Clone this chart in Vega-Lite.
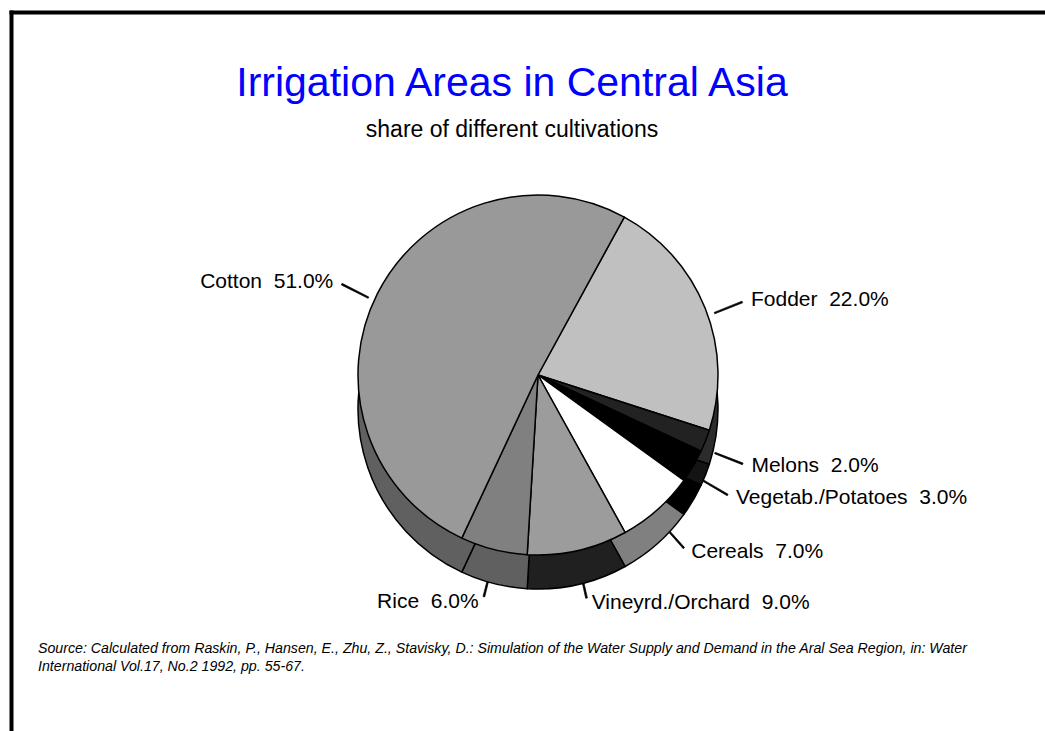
{
  "$schema": "https://vega.github.io/schema/vega-lite/v6.json",
  "autosize": "none",
  "padding": {"left": 11, "top": 12, "right": 0, "bottom": 0},
  "width": 1034,
  "height": 719,
  "background": "white",
  "config": {
    "font": "Liberation Sans",
    "view": {"stroke": null}
  },
  "title": {
    "text": "Irrigation Areas in Central Asia",
    "subtitle": "share of different cultivations",
    "fontSize": 41,
    "fontWeight": "normal",
    "color": "#0000ff",
    "subtitleFontSize": 23,
    "subtitleColor": "black",
    "subtitlePadding": 14,
    "anchor": "middle",
    "frame": "group",
    "offset": -131,
    "dx": -16
  },
  "data": {
    "values": [
      {"crop": "Fodder", "pct": 22, "o": 1},
      {"crop": "Melons", "pct": 2, "o": 2},
      {"crop": "Vegetab./Potatoes", "pct": 3, "o": 3},
      {"crop": "Cereals", "pct": 7, "o": 4},
      {"crop": "Vineyrd./Orchard", "pct": 9, "o": 5},
      {"crop": "Rice", "pct": 6, "o": 6},
      {"crop": "Cotton", "pct": 51, "o": 7}
    ]
  },
  "transform": [
    {"window": [{"op": "sum", "field": "pct", "as": "cum"}], "sort": [{"field": "o"}], "frame": [null, 0]},
    {"calculate": "0.5 + 2 * PI * (datum.cum - datum.pct / 2) / 100", "as": "mid"},
    {"calculate": "datum.mid - 0.004", "as": "lo"},
    {"calculate": "datum.mid + 0.004", "as": "hi"},
    {"calculate": "datum.crop + '\u00a0 ' + format(datum.pct, '.1f') + '%'", "as": "lab"}
  ],
  "layer": [
    {
      "data": {"values": [{"f": 0}]},
      "transform": [],
      "mark": {"type": "point", "opacity": 0},
      "encoding": {
        "x": {"datum": 0, "type": "quantitative", "scale": {"domain": [0, 1]},
              "axis": {"orient": "top", "domain": true, "domainColor": "black", "domainWidth": 4, "domainCap": "square", "ticks": false, "labels": false, "title": null, "grid": false}},
        "y": {"datum": 0, "type": "quantitative", "scale": {"domain": [0, 1]},
              "axis": {"orient": "left", "domain": true, "domainColor": "black", "domainWidth": 4, "domainCap": "square", "ticks": false, "labels": false, "title": null, "grid": false}}
      }
    },
    {
      "mark": {"type": "arc", "xOffset": 10, "yOffset": 12, "fill": "black", "stroke": "black", "strokeWidth": 0.7},
      "encoding": {
        "theta": {"field": "lo", "type": "quantitative", "scale": null, "stack": null},
        "theta2": {"field": "hi"},
        "radius": {"value": 190},
        "radius2": {"value": 220}
      }
    },
    {
      "mark": {"type": "arc", "radius": 180, "xOffset": 10, "yOffset": 37.5, "stroke": "black", "strokeWidth": 1.5, "strokeJoin": "round"},
      "encoding": {
        "theta": {"field": "pct", "type": "quantitative", "stack": true, "scale": {"range": [0.5, 6.78319]}},
        "order": {"field": "o", "type": "quantitative"},
        "color": {
          "field": "crop", "type": "nominal", "legend": null,
          "scale": {
            "domain": ["Fodder", "Melons", "Vegetab./Potatoes", "Cereals", "Vineyrd./Orchard", "Rice", "Cotton"],
            "range": ["#2c2c2c", "#141414", "#000000", "#808080", "#202020", "#606060", "#606060"]
          }
        }
      }
    },
    {
      "mark": {"type": "arc", "radius": 180, "xOffset": 10, "yOffset": 3.5, "stroke": "black", "strokeWidth": 1.5, "strokeJoin": "round"},
      "encoding": {
        "theta": {"field": "pct", "type": "quantitative", "stack": true, "scale": {"range": [0.5, 6.78319]}},
        "order": {"field": "o", "type": "quantitative"},
        "color": {
          "field": "crop", "type": "nominal", "legend": null,
          "scale": {
            "domain": ["Fodder", "Melons", "Vegetab./Potatoes", "Cereals", "Vineyrd./Orchard", "Rice", "Cotton"],
            "range": ["#c0c0c0", "#222222", "#000000", "#ffffff", "#9c9c9c", "#808080", "#999999"]
          }
        }
      }
    },
    {
      "transform": [{"filter": "datum.mid < PI"}],
      "mark": {"type": "text", "xOffset": 14, "yOffset": 12, "align": "left", "baseline": "middle", "fontSize": 21, "color": "black"},
      "encoding": {
        "theta": {"field": "mid", "type": "quantitative", "scale": null, "stack": null},
        "radius": {"value": 225},
        "text": {"field": "lab"}
      }
    },
    {
      "transform": [{"filter": "datum.mid >= PI"}],
      "mark": {"type": "text", "xOffset": 6, "yOffset": 12, "align": "right", "baseline": "middle", "fontSize": 21, "color": "black"},
      "encoding": {
        "theta": {"field": "mid", "type": "quantitative", "scale": null, "stack": null},
        "radius": {"value": 225},
        "text": {"field": "lab"}
      }
    },
    {
      "data": {"values": [{"note": ["Source: Calculated from Raskin, P., Hansen, E., Zhu, Z., Stavisky, D.: Simulation of the Water Supply and Demand in the Aral Sea Region, in: Water", "International Vol.17, No.2 1992, pp. 55-67."]}]},
      "transform": [],
      "mark": {"type": "text", "align": "left", "baseline": "alphabetic", "fontSize": 14.2, "fontStyle": "italic", "lineHeight": 18, "color": "black"},
      "encoding": {
        "x": {"value": 27},
        "y": {"value": 641},
        "text": {"field": "note"}
      }
    }
  ],
  "resolve": {"scale": {"color": "independent"}}
}
